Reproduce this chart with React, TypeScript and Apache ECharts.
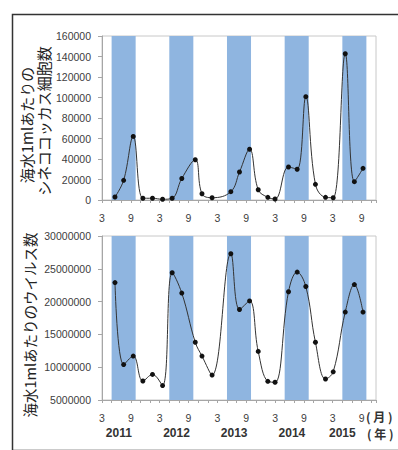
import React, { useEffect, useRef } from 'react';
import * as echarts from 'echarts';

// month offset from March 2011 (0 = 2011-03)
const sampleMonth = [2.7, 4.5, 6.5, 8.5, 10.5, 12.6, 14.6, 16.6, 19.4, 20.8, 22.9, 26.8, 28.6, 30.7, 32.5, 34.5, 36.0, 38.8, 40.6, 42.4, 44.4, 46.5, 48.1, 50.6, 52.5, 54.3];
const synechococcus = [2900, 19200, 62000, 1700, 1700, 700, 1700, 21000, 39300, 6100, 2200, 8100, 27300, 49500, 10000, 2600, 1000, 32200, 30000, 100800, 15300, 2600, 2200, 142700, 17900, 30900];
const virus = [22900000, 10400000, 11700000, 7900000, 8900000, 7200000, 24400000, 21300000, 13800000, 11700000, 8800000, 27300000, 18800000, 20100000, 12400000, 7850000, 7700000, 21500000, 24500000, 22300000, 13800000, 8200000, 9300000, 18400000, 22600000, 18400000];
const years = ['2011', '2012', '2013', '2014', '2015'];
// summer bands: May (2) to October (7) each year
const summerBands = [[2, 7], [14, 19], [26, 31], [38, 43], [50, 55]];
const topTitle = ['海水1mlあたりの', 'シネココッカス細胞数'];
const bottomTitle = '海水1mlあたりのウイルス数';

const NUM_FONT = 'Liberation Sans, Arial, sans-serif';
const JP_FONT = 'Noto Sans CJK JP, sans-serif';
const BAND = '#8fb5e0';

export default function App() {
  const ref = useRef<HTMLDivElement>(null);
  useEffect(() => {
    if (!ref.current) return;
    const chart = echarts.init(ref.current, undefined, { renderer: 'svg' });
    const monthFmt = (v: number) => (v % 6 === 0 ? String(((v + 2) % 12) + 1) : '');
    const yearFmt = (v: number) => {
      for (let i = 0; i < years.length; i++) {
        const c = i < 4 ? 3.5 + 12 * i : 50;
        if (Math.abs(v - c) < 0.01) return years[i];
      }
      return '';
    };
    const xBase = (gridIndex: number) => ({
      type: 'value',
      gridIndex,
      position: 'bottom',
      min: 0,
      max: 57,
      interval: 2,
      splitLine: { show: false },
      axisLine: { lineStyle: { color: '#a6a6a6', width: 1 } },
      axisTick: { show: true, length: 3, lineStyle: { color: '#a6a6a6' } },
      axisLabel: { formatter: monthFmt, color: '#404040', fontSize: 10.5, fontFamily: NUM_FONT, margin: 12, showMinLabel: true, showMaxLabel: true },
    });
    const seriesBase = {
      type: 'line',
      smooth: 0.4,
      symbol: 'circle',
      symbolSize: 5,
      lineStyle: { color: '#333', width: 1 },
      itemStyle: { color: '#111' },
      markArea: {
        silent: true,
        itemStyle: { color: BAND },
        data: summerBands.map(([a, b]) => [{ xAxis: a }, { xAxis: b }]),
      },
    };
    const vText = (text: string, x: number, y: number, size: number) => ({
      type: 'text', x, y, rotation: Math.PI / 2, silent: true,
      style: { text, align: 'center', verticalAlign: 'middle', fontSize: size, fill: '#222', fontFamily: JP_FONT },
    });
    chart.setOption({
      animation: false,
      grid: [
        { left: 102, top: 36, width: 274, height: 164, show: true, borderColor: '#c8c8c8', borderWidth: 1, backgroundColor: 'transparent' },
        { left: 102, top: 236, width: 274, height: 164, show: true, borderColor: '#c8c8c8', borderWidth: 1, backgroundColor: 'transparent' },
      ],
      xAxis: [
        xBase(0),
        xBase(1),
        {
          type: 'value', gridIndex: 1, position: 'bottom', min: 0, max: 57, interval: 0.5,
          axisLine: { show: false }, axisTick: { show: false }, splitLine: { show: false },
          axisLabel: { formatter: yearFmt, color: '#333', fontSize: 12, fontWeight: 'bold', fontFamily: NUM_FONT, margin: 27 },
        },
      ],
      yAxis: [
        {
          type: 'value', gridIndex: 0, min: 0, max: 160000, interval: 20000,
          splitLine: { show: false },
          axisLine: { show: true, lineStyle: { color: '#a6a6a6' } },
          axisTick: { show: true, length: 4, lineStyle: { color: '#a6a6a6' } },
          axisLabel: { formatter: (v: number) => String(v), color: '#404040', fontSize: 10.5, fontFamily: NUM_FONT, margin: 11 },
        },
        {
          type: 'value', gridIndex: 1, min: 5000000, max: 30000000, interval: 5000000,
          splitLine: { show: false },
          axisLine: { show: true, lineStyle: { color: '#a6a6a6' } },
          axisTick: { show: true, length: 4, lineStyle: { color: '#a6a6a6' } },
          axisLabel: { formatter: (v: number) => String(v), color: '#404040', fontSize: 10.5, fontFamily: NUM_FONT, margin: 11 },
        },
      ],
      series: [
        { ...seriesBase, xAxisIndex: 0, yAxisIndex: 0, data: sampleMonth.map((m, i) => [m, synechococcus[i]]) },
        { ...seriesBase, xAxisIndex: 1, yAxisIndex: 1, data: sampleMonth.map((m, i) => [m, virus[i]]) },
      ],
      graphic: [
        { type: 'rect', left: 10, top: 12, shape: { width: 400, height: 436 }, style: { fill: 'none', stroke: '#333', lineWidth: 1.5 }, silent: true },
        vText(topTitle[0], 26, 125, 15),
        vText(topTitle[1], 43, 121, 15),
        vText(bottomTitle, 29, 325, 14.5),
        { type: 'text', left: 366, top: 410, style: { text: '( 月 )', fontSize: 12, fill: '#333', fontFamily: JP_FONT, fontWeight: 'bold' } },
        { type: 'text', left: 367, top: 427, style: { text: '( 年 )', fontSize: 12, fill: '#333', fontFamily: JP_FONT, fontWeight: 'bold' } },
      ],
    });
    return () => chart.dispose();
  }, []);
  return <div ref={ref} style={{ position: 'absolute', left: 0, top: 0, width: 398, height: 450 }} />;
}
